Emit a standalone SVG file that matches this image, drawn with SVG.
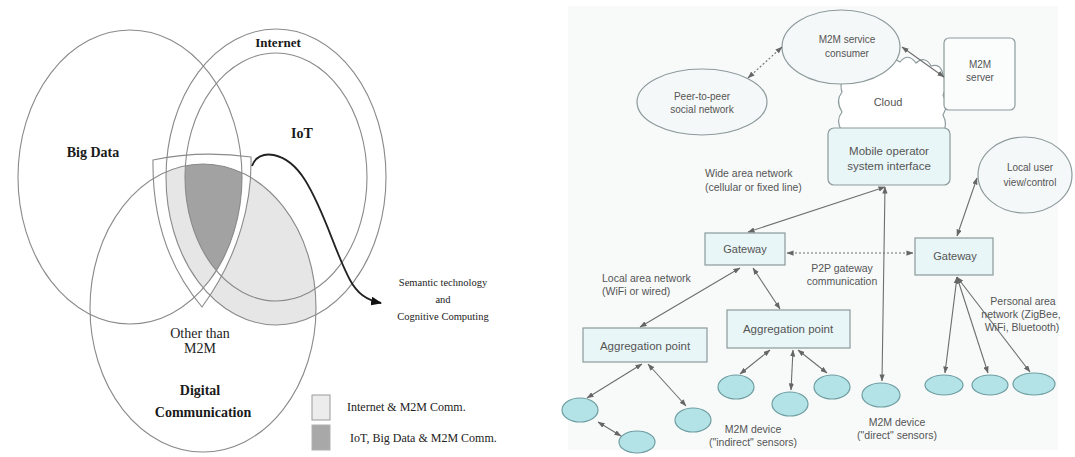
<svg xmlns="http://www.w3.org/2000/svg" width="1075" height="457" viewBox="0 0 1075 457">
<style>
.vs{fill:none;stroke:#8a8a8a;stroke-width:1.1}
.vl{font-family:"Liberation Serif",serif;fill:#222}
.vb{font-family:"Liberation Serif",serif;font-weight:bold;fill:#1a1a1a}
.t{font-family:"Liberation Sans",Arial,sans-serif;fill:#555;font-size:10.5px}
.tc{font-family:"Liberation Sans",Arial,sans-serif;fill:#555;text-anchor:middle}
.box{fill:#e9f6f7;stroke:#8d9a9b;stroke-width:1.2}
.oval{fill:#f5f8f8;stroke:#8d9a9b;stroke-width:1.2}
.dev{fill:#b3e3e6;stroke:#6f9ea2;stroke-width:1.2}
.e{fill:none;stroke:#6e6e6e;stroke-width:1.1;marker-start:url(#ah);marker-end:url(#ah)}
.d{stroke-dasharray:2 2}
</style>
<defs>
<marker id="ah" viewBox="0 0 8 6" markerWidth="7" markerHeight="5.5" refX="7.5" refY="3" orient="auto-start-reverse" markerUnits="userSpaceOnUse"><path d="M0,0 L8,3 L0,6 z" fill="#666"/></marker>
<marker id="bh" viewBox="0 0 10 8" markerWidth="11" markerHeight="9" refX="9" refY="4" orient="auto" markerUnits="userSpaceOnUse"><path d="M0,0 L10,4 L0,8 z" fill="#111"/></marker>
<clipPath id="cInt"><ellipse cx="276" cy="177" rx="110" ry="148"/></clipPath>
<clipPath id="cBig"><ellipse cx="130" cy="177" rx="112" ry="147"/></clipPath>
<clipPath id="cIoT"><ellipse cx="276" cy="177" rx="91" ry="124"/></clipPath>
</defs>
<rect width="1075" height="457" fill="#ffffff"/>

<!-- Left Venn diagram -->
<g id="venn">
<g clip-path="url(#cInt)"><ellipse cx="203" cy="308" rx="113" ry="144" fill="#e6e6e6"/></g>
<path d="M153 160 Q200 150 251 157 C252 200 240 255 202 307 C175 275 152 230 153 160 Z" fill="#ffffff" stroke="#8a8a8a" stroke-width="1.1"/>
<g clip-path="url(#cInt)"><g clip-path="url(#cBig)"><ellipse cx="203" cy="308" rx="113" ry="144" fill="#e6e6e6"/></g></g>
<g clip-path="url(#cIoT)"><g clip-path="url(#cBig)"><ellipse cx="203" cy="308" rx="113" ry="144" fill="#a2a2a2"/></g></g>
<ellipse id="bigdata" class="vs" cx="130" cy="177" rx="112" ry="147"/>
<ellipse id="internet" class="vs" cx="276" cy="177" rx="110" ry="148"/>
<ellipse id="iot" class="vs" cx="276" cy="177" rx="91" ry="124"/>
<ellipse id="digital" class="vs" cx="203" cy="308" rx="113" ry="144"/>
<path d="M252 166 C258 148 286 150 305 180 C325 212 334 250 350 280 C357 293 366 300 381 303" fill="none" stroke="#222" stroke-width="1.8" marker-end="url(#bh)"/>
<text class="vb" x="93" y="157" font-size="14" text-anchor="middle">Big Data</text>
<text class="vb" x="278" y="47" font-size="13" text-anchor="middle">Internet</text>
<text class="vb" x="302" y="138" font-size="14" text-anchor="middle">IoT</text>
<text class="vl" x="200" y="338" font-size="14" text-anchor="middle">Other than</text>
<text class="vl" x="200" y="353" font-size="14" text-anchor="middle">M2M</text>
<text class="vb" x="200" y="395" font-size="14" text-anchor="middle">Digital</text>
<text class="vb" x="203" y="417" font-size="14" text-anchor="middle">Communication</text>
<g class="vl" font-size="10.5" text-anchor="middle">
<text x="443" y="286">Semantic technology</text>
<text x="443" y="303">and</text>
<text x="443" y="320">Cognitive Computing</text>
</g>
<rect x="312" y="395" width="18" height="25" fill="#ececec" stroke="#9a9a9a" stroke-width="1"/>
<rect x="312" y="425" width="18" height="25" fill="#a8a8a8" stroke="#b0b0b0" stroke-width="1"/>
<text class="vl" x="347" y="411" font-size="12">Internet &amp; M2M Comm.</text>
<text class="vl" x="350" y="442" font-size="12">IoT, Big Data &amp; M2M Comm.</text>
</g>

<!-- Right network diagram -->
<rect x="568" y="6" width="490" height="444" fill="#f8fafa"/>

<g id="cloud">
<path d="M842 131 Q835 121 842 112 Q835 101 842 92 Q838 80 850 76 L880 64 Q890 55 900 62 Q908 52 916 63 Q925 55 931 66 Q941 63 943 75 Q949 85 943 95 Q949 105 943 115 Q948 125 943 132 Z" fill="#ffffff" stroke="#8d9a9b" stroke-width="1.2"/>
<text class="tc" x="888" y="106" font-size="11">Cloud</text>
</g>
<g id="consumer">
<ellipse class="oval" cx="841" cy="47" rx="59" ry="37"/>
<text class="tc" x="847" y="43" font-size="10">M2M service</text>
<text class="tc" x="847" y="57" font-size="10">consumer</text>
</g>
<g id="peer">
<ellipse class="oval" cx="702" cy="102" rx="65" ry="33"/>
<text class="tc" x="702" y="100" font-size="10">Peer-to-peer</text>
<text class="tc" x="702" y="113" font-size="10">social network</text>
</g>
<g id="server">
<rect class="box" x="944" y="38" width="71" height="72" rx="5" fill="#fbfdfd" style="fill:#fbfdfd"/>
<text class="tc" x="980" y="68" font-size="10">M2M</text>
<text class="tc" x="980" y="81" font-size="10">server</text>
</g>
<g id="mobileop">
<rect class="box" x="828" y="128" width="122" height="57" rx="6"/>
<text class="tc" x="889" y="155" font-size="11.5">Mobile operator</text>
<text class="tc" x="889" y="170" font-size="11.5">system interface</text>
</g>
<g id="localuser">
<ellipse class="oval" cx="1025" cy="175" rx="47" ry="38"/>
<text class="tc" x="1030" y="171" font-size="10">Local user</text>
<text class="tc" x="1030" y="186" font-size="10">view/control</text>
</g>
<g id="gatewayL">
<rect class="box" x="705" y="233" width="80" height="32"/>
<text class="tc" x="745" y="253" font-size="11">Gateway</text>
</g>
<g id="gatewayR">
<rect class="box" x="915" y="238" width="78" height="37"/>
<text class="tc" x="955" y="260" font-size="11">Gateway</text>
</g>
<g id="aggL">
<rect class="box" x="583" y="328" width="124" height="34"/>
<text class="tc" x="645" y="350" font-size="11.5">Aggregation point</text>
</g>
<g id="aggR">
<rect class="box" x="727" y="310" width="123" height="38"/>
<text class="tc" x="788" y="333" font-size="11.5">Aggregation point</text>
</g>
<g id="devices">
<ellipse class="dev" cx="580" cy="410" rx="18" ry="12"/>
<ellipse class="dev" cx="693" cy="420" rx="18" ry="12"/>
<ellipse class="dev" cx="637" cy="442" rx="18" ry="11"/>
<ellipse class="dev" cx="736" cy="387" rx="18" ry="12"/>
<ellipse class="dev" cx="790" cy="404" rx="18" ry="12"/>
<ellipse class="dev" cx="832" cy="387" rx="18" ry="12"/>
<ellipse class="dev" cx="881" cy="395" rx="19" ry="12"/>
<ellipse class="dev" cx="944" cy="385" rx="19" ry="10"/>
<ellipse class="dev" cx="990" cy="385" rx="18" ry="10"/>
<ellipse class="dev" cx="1034" cy="384" rx="21" ry="11"/>
</g>
<g id="connectors">
<line class="e d" x1="748" y1="78" x2="782" y2="47"/>
<line class="e" x1="902" y1="47" x2="944" y2="77"/>
<line class="e" x1="885" y1="187" x2="748" y2="232"/>
<line class="e" x1="885" y1="187" x2="882" y2="381"/>
<line class="e" x1="977" y1="178" x2="957" y2="236"/>
<line class="e d" x1="787" y1="253" x2="913" y2="253"/>
<line class="e" x1="740" y1="268" x2="640" y2="327"/>
<line class="e" x1="753" y1="268" x2="780" y2="309"/>
<line class="e" x1="642" y1="364" x2="587" y2="398"/>
<line class="e" x1="648" y1="364" x2="686" y2="406"/>
<line class="e" x1="598" y1="422" x2="621" y2="436"/>
<line class="e" x1="770" y1="350" x2="740" y2="374"/>
<line class="e" x1="793" y1="350" x2="791" y2="390"/>
<line class="e" x1="798" y1="350" x2="827" y2="373"/>
<line class="e" x1="957" y1="277" x2="945" y2="373"/>
<line class="e" x1="957" y1="277" x2="988" y2="373"/>
<line class="e" x1="957" y1="277" x2="1030" y2="372"/>
</g>
<g id="labels">
<text class="t" x="705" y="177">Wide area network</text>
<text class="t" x="705" y="191">(cellular or fixed line)</text>
<text class="t" x="602" y="282">Local area network</text>
<text class="t" x="602" y="295">(WiFi or wired)</text>
<text class="tc" x="842" y="272" font-size="10.5">P2P gateway</text>
<text class="tc" x="842" y="285" font-size="10.5">communication</text>
<text class="tc" x="1023" y="305" font-size="10.5">Personal area</text>
<text class="tc" x="1021" y="318" font-size="10.5">network (ZigBee,</text>
<text class="tc" x="1022" y="331" font-size="10.5">WiFi, Bluetooth)</text>
<text class="tc" x="753" y="433" font-size="10.5">M2M device</text>
<text class="tc" x="753" y="446" font-size="10.5">("indirect" sensors)</text>
<text class="tc" x="897" y="426" font-size="10.5">M2M device</text>
<text class="tc" x="897" y="439" font-size="10.5">("direct" sensors)</text>
</g>
</svg>
